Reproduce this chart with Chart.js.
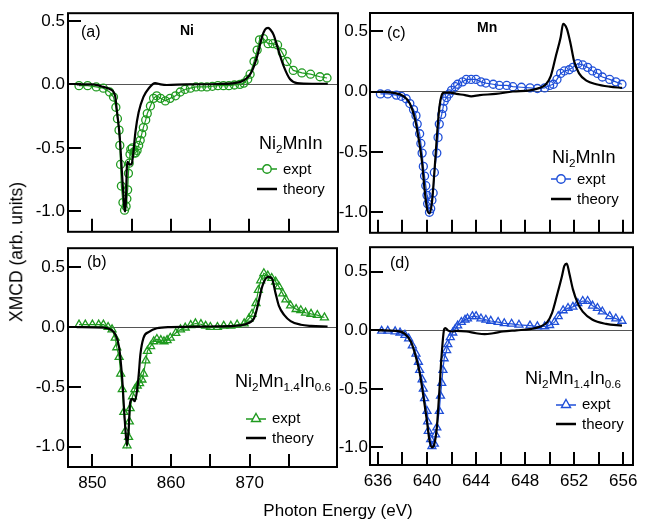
<!DOCTYPE html>
<html>
<head>
<meta charset="utf-8">
<script src="https://cdn.jsdelivr.net/npm/chart.js@4.4.1/dist/chart.umd.min.js"></script>
<style>
  body { margin: 0; background: #fff; font-family: "Liberation Sans", Arial, sans-serif; }
  #wrap { position: relative; width: 650px; height: 519px; overflow: hidden; }
  canvas { position: absolute; }
  .txt { position: absolute; color: #000; white-space: nowrap; line-height: 1; }
  .txt sub { font-size: 0.65em; vertical-align: -0.3em; }
  .leg { position: absolute; display: flex; align-items: center; font-size: 15px; line-height: 1; white-space: nowrap; }
  .leg svg { margin-right: 6px; }
</style>
</head>
<body>
<div id="wrap">
  <canvas id="chartA" style="left:0px;top:0px" width="345" height="245"></canvas>
  <canvas id="chartB" style="left:0px;top:235px" width="345" height="284"></canvas>
  <canvas id="chartC" style="left:330px;top:0px" width="320" height="245"></canvas>
  <canvas id="chartD" style="left:330px;top:235px" width="320" height="284"></canvas>

  <!-- titres des axes -->
  <div class="txt" style="left:17px;top:252px;font-size:17.5px;transform:translate(-50%,-50%) rotate(-90deg)">XMCD (arb. units)</div>
  <div class="txt" style="left:338px;top:510px;font-size:17px;transform:translate(-50%,-50%)">Photon Energy (eV)</div>

  <!-- etiquettes des panneaux -->
  <div class="txt" style="left:81px;top:24px;font-size:16px">(a)</div>
  <div class="txt" style="left:180px;top:23px;font-size:14px;font-weight:bold">Ni</div>
  <div class="txt" style="left:259px;top:134px;font-size:18px">Ni<sub>2</sub>MnIn</div>

  <div class="txt" style="left:387px;top:25px;font-size:16px">(c)</div>
  <div class="txt" style="left:477px;top:20px;font-size:14px;font-weight:bold">Mn</div>
  <div class="txt" style="left:552px;top:148px;font-size:18px">Ni<sub>2</sub>MnIn</div>

  <div class="txt" style="left:87px;top:254px;font-size:16px">(b)</div>
  <div class="txt" style="left:235px;top:372px;font-size:18px">Ni<sub>2</sub>Mn<sub>1.4</sub>In<sub>0.6</sub></div>

  <div class="txt" style="left:390px;top:255px;font-size:16px">(d)</div>
  <div class="txt" style="left:525px;top:369px;font-size:18px">Ni<sub>2</sub>Mn<sub>1.4</sub>In<sub>0.6</sub></div>

  <!-- legendes -->
  <div class="leg" style="left:257px;top:161px">
    <svg width="20" height="12"><line x1="0" y1="6" x2="20" y2="6" stroke="#1f9a1f" stroke-width="1.5"/><circle cx="10" cy="6" r="4.2" fill="#fff" stroke="#1f9a1f" stroke-width="1.4"/></svg>expt</div>
  <div class="leg" style="left:257px;top:181px">
    <svg width="20" height="12"><line x1="0" y1="6" x2="20" y2="6" stroke="#000" stroke-width="2.5"/></svg>theory</div>

  <div class="leg" style="left:551px;top:171px">
    <svg width="20" height="12"><line x1="0" y1="6" x2="20" y2="6" stroke="#1f4fd8" stroke-width="1.5"/><circle cx="10" cy="6" r="4.2" fill="#fff" stroke="#1f4fd8" stroke-width="1.4"/></svg>expt</div>
  <div class="leg" style="left:551px;top:191px">
    <svg width="20" height="12"><line x1="0" y1="6" x2="20" y2="6" stroke="#000" stroke-width="2.5"/></svg>theory</div>

  <div class="leg" style="left:246px;top:410px">
    <svg width="20" height="12"><line x1="0" y1="7" x2="20" y2="7" stroke="#1f9a1f" stroke-width="1.5"/><polygon points="10,1.5 14.5,9.5 5.5,9.5" fill="#fff" stroke="#1f9a1f" stroke-width="1.4"/></svg>expt</div>
  <div class="leg" style="left:246px;top:430px">
    <svg width="20" height="12"><line x1="0" y1="6" x2="20" y2="6" stroke="#000" stroke-width="2.5"/></svg>theory</div>

  <div class="leg" style="left:556px;top:396px">
    <svg width="20" height="12"><line x1="0" y1="7" x2="20" y2="7" stroke="#1f4fd8" stroke-width="1.5"/><polygon points="10,1.5 14.5,9.5 5.5,9.5" fill="#fff" stroke="#1f4fd8" stroke-width="1.4"/></svg>expt</div>
  <div class="leg" style="left:556px;top:416px">
    <svg width="20" height="12"><line x1="0" y1="6" x2="20" y2="6" stroke="#000" stroke-width="2.5"/></svg>theory</div>
</div>

<script>
// ---------- donnees ----------

// (a) Ni L-edge, Ni2MnIn
const aExptE = [848.3, 849.4, 850.5, 851.4, 852.2, 852.7, 853.0, 853.2, 853.4, 853.5, 853.6, 853.7, 853.9, 854.1, 854.3, 854.4, 854.5, 854.6, 854.7, 854.8, 854.9, 855.1, 855.3, 855.5, 855.7, 855.9, 856.1, 856.3, 856.5, 856.8, 857.0, 857.4, 857.8, 858.2, 858.7, 859.3, 859.9, 860.6, 861.2, 861.8, 862.5, 863.2, 863.9, 864.6, 865.3, 866.0, 866.7, 867.4, 868.1, 868.8, 869.3, 869.8, 870.1, 870.6, 871.0, 871.3, 871.8, 872.4, 873.0, 873.6, 874.2, 874.8, 875.6, 876.7, 877.8, 879.0, 879.9];
const aExptV = [-0.01, -0.01, -0.02, -0.03, -0.06, -0.10, -0.18, -0.27, -0.36, -0.48, -0.63, -0.80, -0.93, -0.99, -0.96, -0.90, -0.83, -0.70, -0.62, -0.55, -0.51, -0.50, -0.54, -0.54, -0.52, -0.48, -0.44, -0.39, -0.34, -0.28, -0.23, -0.17, -0.11, -0.09, -0.11, -0.13, -0.11, -0.09, -0.06, -0.04, -0.03, -0.02, -0.02, -0.02, -0.015, -0.01, -0.01, -0.01, -0.005, 0.0, 0.01, 0.04, 0.08, 0.18, 0.27, 0.35, 0.36, 0.32, 0.32, 0.31, 0.25, 0.18, 0.11, 0.09, 0.08, 0.06, 0.05];
const aTheoE = [848.0, 850.0, 851.4, 852.3, 852.9, 853.1, 853.5, 853.8, 854.1, 854.2, 854.3, 854.4, 854.5, 854.7, 855.0, 855.2, 855.5, 855.9, 856.5, 857.2, 858.0, 858.7, 859.5, 862.0, 866.0, 868.9, 869.7, 870.3, 871.0, 871.6, 872.0, 872.4, 872.7, 873.1, 873.7, 874.4, 875.2, 876.1, 878.0, 880.0];
const aTheoV = [0, 0, -0.02, -0.04, -0.09, -0.19, -0.42, -0.72, -0.98, -1.0, -0.88, -0.65, -0.61, -0.63, -0.63, -0.55, -0.37, -0.22, -0.10, -0.03, 0.01, 0, -0.005, 0, 0.003, 0.02, 0.05, 0.10, 0.22, 0.37, 0.43, 0.445, 0.43, 0.39, 0.27, 0.14, 0.04, 0.01, 0.005, 0.005];

// (b) Ni L-edge, Ni2Mn1.4In0.6
const bExptE = [848.3, 849.1, 850.0, 850.8, 851.4, 852.0, 852.5, 852.9, 853.1, 853.4, 853.6, 853.8, 854.0, 854.2, 854.4, 854.6, 854.7, 854.8, 855.1, 855.4, 855.7, 856.0, 856.3, 856.5, 856.8, 857.0, 857.4, 857.8, 858.2, 858.7, 859.1, 859.5, 859.9, 860.6, 861.2, 861.8, 862.5, 863.1, 863.8, 864.4, 865.0, 865.9, 866.7, 867.6, 868.4, 869.3, 869.9, 870.3, 870.8, 871.1, 871.4, 871.8, 872.3, 872.8, 873.3, 873.7, 874.2, 874.6, 875.2, 875.9, 876.5, 877.1, 877.8, 878.6, 879.5];
const bExptV = [0.02, 0.02, 0.02, 0.02, 0.02, 0.0, -0.02, -0.09, -0.17, -0.25, -0.39, -0.52, -0.71, -0.87, -0.99, -0.92, -0.79, -0.68, -0.58, -0.52, -0.49, -0.47, -0.44, -0.39, -0.28, -0.20, -0.16, -0.12, -0.10, -0.11, -0.12, -0.11, -0.09, -0.05, -0.02, -0.005, 0.016, 0.03, 0.024, 0.01, 0.0, 0.0, 0.01, 0.01, 0.02, 0.03, 0.07, 0.11, 0.20, 0.31, 0.39, 0.45, 0.43, 0.41, 0.38, 0.34, 0.28, 0.23, 0.18, 0.15, 0.14, 0.12, 0.11, 0.10, 0.08];
const bTheoE = [848.0, 851.5, 852.3, 852.9, 853.4, 853.8, 854.1, 854.4, 854.6, 854.8, 855.1, 855.4, 855.7, 855.9, 856.1, 856.5, 857.2, 858.2, 860.0, 865.0, 868.0, 869.7, 870.6, 871.2, 871.6, 872.3, 872.8, 873.3, 873.7, 874.4, 875.2, 876.5, 877.8, 879.9];
const bTheoV = [0, -0.005, -0.02, -0.06, -0.17, -0.44, -0.76, -0.99, -0.87, -0.63, -0.60, -0.62, -0.52, -0.39, -0.23, -0.09, -0.04, -0.01, 0, 0.005, 0.01, 0.03, 0.08, 0.23, 0.34, 0.42, 0.41, 0.28, 0.18, 0.10, 0.05, 0.02, 0.01, 0.005];

// (c) Mn L-edge, Ni2MnIn
const cExptE = [636.2, 636.8, 637.5, 637.9, 638.3, 638.6, 638.9, 639.1, 639.2, 639.4, 639.5, 639.6, 639.7, 639.8, 639.9, 640.0, 640.05, 640.2, 640.3, 640.4, 640.5, 640.6, 640.8, 640.9, 641.0, 641.2, 641.3, 641.4, 641.6, 641.8, 642.0, 642.3, 642.5, 642.9, 643.2, 643.6, 644.0, 644.4, 644.8, 645.4, 645.9, 646.5, 647.0, 647.7, 648.4, 649.0, 649.6, 650.0, 650.3, 650.6, 650.9, 651.2, 651.6, 651.9, 652.3, 652.7, 653.1, 653.5, 653.9, 654.3, 654.9, 655.4, 655.9];
const cExptV = [-0.02, -0.02, -0.03, -0.04, -0.06, -0.10, -0.15, -0.20, -0.27, -0.35, -0.43, -0.51, -0.62, -0.70, -0.78, -0.86, -0.93, -1.0, -0.97, -0.90, -0.84, -0.67, -0.51, -0.38, -0.27, -0.19, -0.14, -0.08, -0.05, -0.02, 0.01, 0.04, 0.06, 0.08, 0.10, 0.10, 0.10, 0.08, 0.07, 0.06, 0.05, 0.05, 0.04, 0.035, 0.03, 0.025, 0.03, 0.05, 0.06, 0.10, 0.15, 0.17, 0.18, 0.20, 0.23, 0.22, 0.20, 0.17, 0.15, 0.12, 0.10, 0.08, 0.06];
const cTheoE = [636.2, 637.2, 638.1, 638.6, 639.0, 639.3, 639.6, 639.8, 640.0, 640.2, 640.4, 640.6, 640.8, 641.0, 641.2, 641.4, 641.9, 642.4, 643.1, 643.6, 644.3, 645.6, 647.0, 648.4, 649.2, 649.7, 650.1, 650.5, 650.9, 651.1, 651.4, 651.7, 652.0, 652.4, 653.0, 653.8, 654.9, 655.9];
const cTheoV = [0, -0.01, -0.04, -0.10, -0.22, -0.38, -0.59, -0.81, -0.97, -1.01, -0.92, -0.67, -0.38, -0.14, -0.03, -0.01, -0.01, -0.02, -0.03, -0.04, -0.03, -0.02, 0, 0.01, 0.03, 0.06, 0.13, 0.29, 0.45, 0.56, 0.52, 0.40, 0.25, 0.15, 0.09, 0.06, 0.04, 0.03];

// (d) Mn L-edge, Ni2Mn1.4In0.6
const dExptE = [636.3, 636.8, 637.4, 637.8, 638.2, 638.5, 638.8, 639.1, 639.3, 639.4, 639.6, 639.7, 639.8, 640.0, 640.05, 640.1, 640.3, 640.4, 640.6, 640.7, 640.8, 641.0, 641.1, 641.2, 641.3, 641.4, 641.6, 641.7, 641.9, 642.1, 642.3, 642.5, 642.8, 643.1, 643.3, 643.7, 644.0, 644.4, 644.8, 645.2, 645.8, 646.3, 646.9, 647.5, 648.4, 649.0, 649.6, 650.0, 650.4, 650.7, 651.1, 651.5, 651.9, 652.3, 652.7, 653.1, 653.5, 653.9, 654.3, 654.9, 655.4, 655.9];
const dExptV = [-0.005, -0.005, -0.01, -0.02, -0.04, -0.07, -0.13, -0.20, -0.27, -0.34, -0.42, -0.50, -0.58, -0.69, -0.78, -0.86, -0.93, -0.99, -0.97, -0.89, -0.83, -0.69, -0.56, -0.45, -0.34, -0.24, -0.17, -0.12, -0.06, -0.02, 0.01, 0.04, 0.07, 0.09, 0.10, 0.12, 0.12, 0.10, 0.09, 0.08, 0.07, 0.06, 0.055, 0.047, 0.04, 0.033, 0.033, 0.044, 0.07, 0.12, 0.17, 0.19, 0.20, 0.23, 0.25, 0.25, 0.21, 0.19, 0.16, 0.12, 0.10, 0.08];
const dTheoE = [636.0, 637.5, 638.2, 638.7, 639.1, 639.4, 639.7, 640.0, 640.2, 640.4, 640.6, 640.8, 641.0, 641.2, 641.4, 641.5, 641.7, 642.0, 642.4, 643.2, 644.0, 644.7, 645.4, 646.2, 647.3, 648.4, 649.2, 649.8, 650.2, 650.6, 651.0, 651.2, 651.4, 651.6, 651.9, 652.3, 652.7, 653.5, 654.6, 655.9];
const dTheoV = [0, -0.005, -0.03, -0.10, -0.23, -0.36, -0.56, -0.78, -0.94, -1.0, -0.97, -0.83, -0.53, -0.20, 0.01, 0.02, 0, -0.01, -0.005, -0.01, -0.025, -0.033, -0.025, -0.01, 0, 0.01, 0.03, 0.07, 0.15, 0.30, 0.46, 0.55, 0.57, 0.49, 0.35, 0.23, 0.16, 0.09, 0.055, 0.04];

// graduations
const yTicks = [0.5, 0.0, -0.5, -1.0];
const niTicks = [850, 855, 860, 865, 870, 875];
const niLabels = [850, 860, 870];
const mnTicks = [636, 638, 640, 642, 644, 646, 648, 650, 652, 654, 656];
const mnLabels = [636, 640, 644, 648, 652, 656];

const GREEN = '#1f9a1f';
const BLUE = '#1f4fd8';
const FONT = { family: '"Liberation Sans", Arial, sans-serif', size: 17 };

function pts(xs, ys) {
  return xs.map((x, i) => ({ x: x, y: ys[i] }));
}

// cadre + graduations vers l'interieur
const framePlugin = {
  id: 'frame',
  afterDraw(chart) {
    const ctx = chart.ctx, a = chart.chartArea;
    const sx = chart.scales.x, sy = chart.scales.y;
    ctx.save();
    ctx.strokeStyle = '#000';
    ctx.lineWidth = 2;
    ctx.beginPath();
    sx.ticks.forEach(t => {
      const px = Math.round(sx.getPixelForValue(t.value));
      ctx.moveTo(px, a.bottom);
      ctx.lineTo(px, a.bottom - 13);
    });
    sy.ticks.forEach(t => {
      const py = Math.round(sy.getPixelForValue(t.value));
      ctx.moveTo(a.left, py);
      ctx.lineTo(a.left + 13, py);
    });
    ctx.stroke();
    ctx.strokeRect(a.left, a.top, a.right - a.left, a.bottom - a.top);
    ctx.restore();
  }
};

function makePanel(id, p) {
  new Chart(document.getElementById(id), {
    type: 'scatter',
    data: {
      datasets: [
        {
          label: 'theory',
          data: pts(p.theoE, p.theoV),
          showLine: true,
          borderColor: '#000',
          borderWidth: 2.2,
          pointRadius: 0,
          cubicInterpolationMode: 'monotone'
        },
        {
          label: 'expt',
          data: pts(p.exptE, p.exptV),
          showLine: true,
          borderColor: p.color,
          borderWidth: 1.2,
          pointStyle: p.marker,
          pointRadius: p.marker === 'triangle' ? 4.6 : 4,
          pointBorderWidth: 1.3,
          pointBorderColor: p.color,
          pointBackgroundColor: 'rgba(255,255,255,0)'
        }
      ]
    },
    options: {
      responsive: false,
      animation: false,
      events: [],
      layout: { padding: p.pad },
      plugins: { legend: { display: false }, tooltip: { enabled: false } },
      scales: {
        x: {
          type: 'linear',
          min: p.xMin,
          max: p.xMax,
          afterBuildTicks: s => { s.ticks = p.xTicks.map(v => ({ value: v })); },
          afterFit: s => { s.height = p.bottom ? 30 : 0; },
          grid: { display: false, drawTicks: false },
          border: { display: false },
          ticks: {
            display: p.bottom,
            autoSkip: false,
            maxRotation: 0,
            padding: 6,
            color: '#000',
            font: FONT,
            callback: v => p.xLabels.includes(v) ? String(v) : ''
          }
        },
        y: {
          min: p.yMin,
          max: p.yMax,
          afterBuildTicks: s => { s.ticks = yTicks.map(v => ({ value: v })); },
          afterFit: s => { s.width = p.yWidth; },
          grid: {
            drawTicks: false,
            lineWidth: 1,
            color: c => (c.tick && c.tick.value === 0) ? '#555' : 'rgba(0,0,0,0)'
          },
          border: { display: false },
          ticks: {
            padding: p.yPad,
            color: '#000',
            font: FONT,
            callback: v => v.toFixed(1)
          }
        }
      }
    },
    plugins: [framePlugin]
  });
}

makePanel('chartA', {
  exptE: aExptE, exptV: aExptV, theoE: aTheoE, theoV: aTheoV,
  color: GREEN, marker: 'circle',
  xMin: 846.9, xMax: 881.3, xTicks: niTicks, xLabels: niLabels, bottom: false,
  yMin: -1.16, yMax: 0.56, yWidth: 68, yPad: 3,
  pad: { top: 11, right: 7, bottom: 8, left: 0 }
});

makePanel('chartB', {
  exptE: bExptE, exptV: bExptV, theoE: bTheoE, theoV: bTheoV,
  color: GREEN, marker: 'triangle',
  xMin: 846.9, xMax: 881.1, xTicks: niTicks, xLabels: niLabels, bottom: true,
  yMin: -1.17, yMax: 0.66, yWidth: 68, yPad: 3,
  pad: { top: 5, right: 8, bottom: 22, left: 0 }
});

makePanel('chartC', {
  exptE: cExptE, exptV: cExptV, theoE: cTheoE, theoV: cTheoV,
  color: BLUE, marker: 'circle',
  xMin: 635.35, xMax: 656.8, xTicks: mnTicks, xLabels: mnLabels, bottom: false,
  yMin: -1.17, yMax: 0.65, yWidth: 40, yPad: 2,
  pad: { top: 13, right: 17, bottom: 7, left: 0 }
});

makePanel('chartD', {
  exptE: dExptE, exptV: dExptV, theoE: dTheoE, theoV: dTheoV,
  color: BLUE, marker: 'triangle',
  xMin: 635.35, xMax: 656.8, xTicks: mnTicks, xLabels: mnLabels, bottom: true,
  yMin: -1.15, yMax: 0.71, yWidth: 40, yPad: 2,
  pad: { top: 5, right: 17, bottom: 24, left: 0 }
});
</script>
</body>
</html>
